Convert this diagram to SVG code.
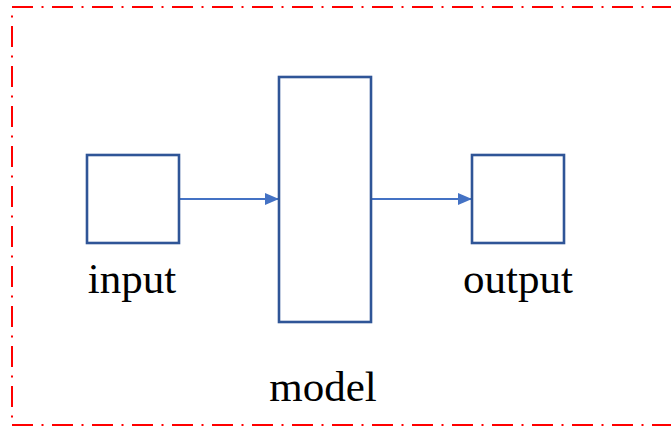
<svg xmlns="http://www.w3.org/2000/svg" width="671" height="426" viewBox="0 0 671 426">
<style>
.frame{fill:none;stroke:#FF0000;stroke-width:2;stroke-dasharray:21 8.5 2 8.5}
.box{fill:#FFFFFF;stroke:#2F5597;stroke-width:2.6}
.conn{fill:none;stroke:#4472C4;stroke-width:2}
.lbl{font-family:"Liberation Serif","Times New Roman",serif;font-size:43px;fill:#000000;text-anchor:middle}
</style>
<defs>
<marker id="ah" markerWidth="14" markerHeight="12" refX="14" refY="6" orient="auto" markerUnits="userSpaceOnUse">
<path d="M0,0 L14,6 L0,12 Z" fill="#4472C4"/>
</marker>
</defs>
<rect width="671" height="426" fill="#FFFFFF"/>
<g id="frame">
<line class="frame" x1="12" y1="7" x2="680" y2="7"/>
<line class="frame" x1="12" y1="7" x2="12" y2="426" stroke-dashoffset="21"/>
<line class="frame" x1="12" y1="425" x2="680" y2="425"/>
</g>
<g id="connectors">
<line class="conn" x1="179" y1="199" x2="279" y2="199" marker-end="url(#ah)"/>
<line class="conn" x1="371" y1="199" x2="472" y2="199" marker-end="url(#ah)"/>
</g>
<g id="input">
<rect class="box" x="87" y="155" width="92" height="88"/>
<text class="lbl" x="132" y="293">input</text>
</g>
<g id="model">
<rect class="box" x="279" y="77" width="92" height="245"/>
<text class="lbl" x="323" y="401">model</text>
</g>
<g id="output">
<rect class="box" x="472" y="155" width="92" height="88"/>
<text class="lbl" x="518" y="293">output</text>
</g>
</svg>
